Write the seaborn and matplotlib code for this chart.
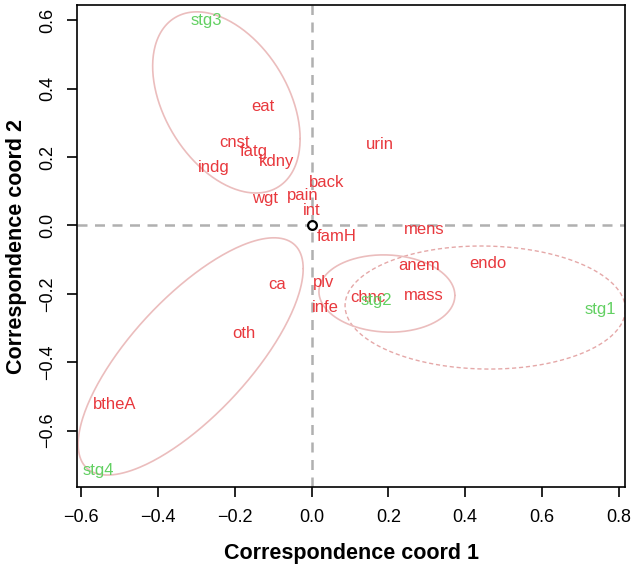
import numpy as np
import pandas as pd
import matplotlib
matplotlib.use("Agg")
import matplotlib.pyplot as plt
import seaborn as sns

# ── data: correspondence coordinates ──
attr_labels = ["eat", "cnst", "fatg", "kdny", "indg", "wgt", "pain", "back", "int",
               "urin", "famH", "mens", "anem", "endo", "ca", "plv", "chnc", "mass",
               "infe", "oth", "btheA"]
attr_x = [-0.127, -0.202, -0.150, -0.092, -0.254, -0.121, -0.022, 0.040, 0.001,
          0.178, 0.066, 0.293, 0.280, 0.459, -0.090, 0.032, 0.147, 0.293,
          0.035, -0.176, -0.512]
attr_y = [0.347, 0.244, 0.215, 0.186, 0.171, 0.080, 0.089, 0.127, 0.045,
          0.238, -0.031, -0.013, -0.116, -0.110, -0.174, -0.168, -0.212, -0.206,
          -0.241, -0.315, -0.525]

stage_labels = ["stg1", "stg2", "stg3", "stg4"]
stage_x = [0.753, 0.168, -0.275, -0.556]
stage_y = [-0.247, -0.218, 0.601, -0.716]

# ellipses round each stage group: centre, half-widths, correlation, dashed?
ell_cx = [0.452, 0.196, -0.222, -0.315]
ell_cy = [-0.240, -0.199, 0.360, -0.383]
ell_sx = [0.365, 0.177, 0.192, 0.293]
ell_sy = [0.180, 0.113, 0.265, 0.347]
ell_rho = [-0.03, -0.05, -0.40, 0.74]
ell_dashed = [True, False, False, False]

x_ticks = [-0.6, -0.4, -0.2, 0.0, 0.2, 0.4, 0.6, 0.8]
y_ticks = [-0.6, -0.4, -0.2, 0.0, 0.2, 0.4, 0.6]

RED = "#E8383D"
GREEN = "#62D062"
PINK = "#EBBDBD"

sns.set_style("white")
plt.rcParams["font.family"] = ["Liberation Sans", "DejaVu Sans"]

fig = plt.figure(figsize=(6.32, 5.71), dpi=100)
ax = fig.add_axes([77 / 632, 1 - 487 / 571, (625 - 77) / 632, (487 - 5) / 571])

for side in ["top", "right", "bottom", "left"]:
    ax.spines[side].set_visible(True)
    ax.spines[side].set_color("black")
    ax.spines[side].set_linewidth(1.2)

# reference lines through the origin
ax.axhline(0, color="#B0B0B0", linestyle=(0, (4, 3)), linewidth=1.8, zorder=1)
ax.axvline(0, color="#B0B0B0", linestyle=(0, (4, 3)), linewidth=1.8, zorder=1)

# group ellipses
t = np.linspace(0, 2 * np.pi, 300)
for cx, cy, sx, sy, rho, dashed in zip(ell_cx, ell_cy, ell_sx, ell_sy, ell_rho, ell_dashed):
    phi = np.arccos(rho)
    df_e = pd.DataFrame({"x": cx + sx * np.cos(t), "y": cy + sy * np.cos(t - phi)})
    sns.lineplot(data=df_e, x="x", y="y", sort=False, estimator=None, ax=ax,
                 color="#E5A8A8" if dashed else PINK,
                 linewidth=1.0 if dashed else 1.2,
                 linestyle=(0, (3, 2)) if dashed else "-", zorder=2)

# origin marker
sns.scatterplot(x=[0.0], y=[0.0], ax=ax, marker="o", s=40, facecolor="white",
                edgecolor="black", linewidth=1.6, zorder=5)

for lab, x, y in zip(attr_labels, attr_x, attr_y):
    ax.text(x, y, lab, color=RED, fontsize=12, ha="center", va="center", zorder=4)
for lab, x, y in zip(stage_labels, stage_x, stage_y):
    ax.text(x, y, lab, color=GREEN, fontsize=12, ha="center", va="center", zorder=4)

ax.set_xlim(-0.611, 0.816)
ax.set_ylim(-0.765, 0.645)
ax.tick_params(axis="both", direction="out", length=7.2, width=1.2,
               bottom=True, left=True, colors="black", labelsize=13)
ax.tick_params(axis="x", pad=9)
ax.tick_params(axis="y", pad=7.5)
ax.set_xticks(x_ticks)
ax.set_yticks(y_ticks)
ax.set_xticklabels([f"{v:.1f}".replace("-", "\u2212") for v in x_ticks])
ax.set_yticklabels([f"{v:.1f}".replace("-", "\u2212") for v in y_ticks],
                   rotation=90, va="center")

ax.set_xlabel("Correspondence coord 1", fontsize=15.5, fontweight="bold",
              color="black", labelpad=12)
ax.set_ylabel("Correspondence coord 2", fontsize=15.5, fontweight="bold",
              color="black", labelpad=9)

fig.savefig("out.png", dpi=100)
